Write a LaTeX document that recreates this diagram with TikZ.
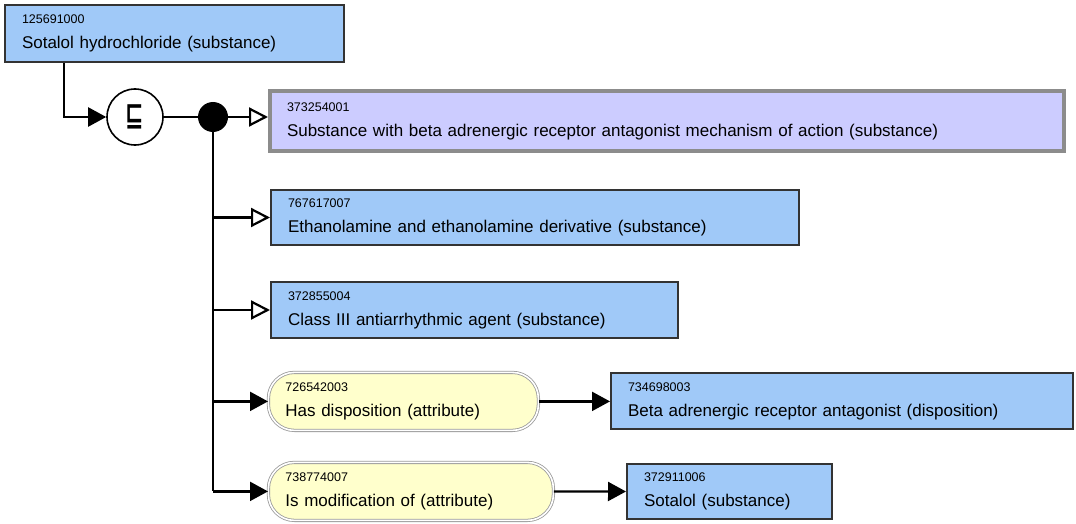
\documentclass[tikz,border=0pt]{standalone}
\usepackage{fontspec}
\setmainfont{Liberation Sans}
\newfontfamily\symfont{DejaVu Sans}
\usetikzlibrary{arrows.meta,positioning}
\definecolor{SBlue}{RGB}{160,201,248}
\definecolor{SLav}{RGB}{204,204,255}
\definecolor{SYellow}{RGB}{255,255,204}
\definecolor{SEdge}{RGB}{51,51,51}
\newcommand{\cid}[2]{{\fontsize{12.5}{25}\selectfont #1}\\#2}

\tikzset{
  concept/.style={draw=SEdge, line width=2pt, fill=SBlue, anchor=north west,
    align=left, inner xsep=17pt, inner ysep=0pt, font=\fontsize{17}{25}\selectfont},
  attrib/.style={concept, draw=black!40, line width=0.8pt, double=white,
    double distance=1.6pt, fill=SYellow, rounded corners=26pt},
  isa/.style={-{Triangle[open,length=19pt,width=19pt,fill=white]}, line width=2.2pt},
  rel/.style={-{Triangle[length=18pt,width=19pt]}, line width=2.2pt},
}

\begin{document}
\begin{tikzpicture}[x=1pt,y=-1pt]
  \useasboundingbox (0,0) rectangle (1076,524);

  % concepts
  \node[concept, text width=305pt, minimum height=57pt] (sotHcl) at (4,4)
    {\cid{125691000}{Sotalol hydrochloride (substance)}};
  \node[concept, draw=black!45, line width=4pt, fill=SLav, text width=760pt, minimum height=60pt] (betaAnt) at (268,89)
    {\cid{373254001}{Substance with beta adrenergic receptor antagonist mechanism of action (substance)}};
  \node[concept, text width=494pt, minimum height=55pt] (ethanol) at (270,189)
    {\cid{767617007}{Ethanolamine and ethanolamine derivative (substance)}};
  \node[concept, text width=373pt, minimum height=56pt] (classIII) at (270,281)
    {\cid{372855004}{Class III antiarrhythmic agent (substance)}};

  % attributes and values
  \node[attrib, text width=236pt, minimum height=58pt] (hasDisp) at (268,372)
    {\cid{726542003}{Has disposition (attribute)}};
  \node[concept, text width=428pt, minimum height=56pt] (dispVal) at (610,372)
    {\cid{734698003}{Beta adrenergic receptor antagonist (disposition)}};
  \node[attrib, text width=251pt, minimum height=58pt] (isMod) at (268,462)
    {\cid{738774007}{Is modification of (attribute)}};
  \node[concept, text width=171pt, minimum height=55pt] (sotalol) at (626,463)
    {\cid{372911006}{Sotalol (substance)}};

  % definition status and conjunction
  \node[circle, draw, line width=1.6pt, fill=white, minimum size=56pt, inner sep=0pt,
    font=\symfont\bfseries\fontsize{26}{26}\selectfont] (defStat) at (135,117)
    {\scalebox{0.85}[1.2]{⊑}};
  \node[circle, fill=black, minimum size=30pt, inner sep=0pt] (conj) at (213,117) {};

  \draw[rel] ([xshift=60pt]sotHcl.south west) |- (defStat.west);
  \draw[line width=2.2pt] (defStat.east) -- (conj.west);
  \draw[isa] (conj.east) -- (conj.east -| betaAnt.west);
  \draw[line width=2.2pt] (conj.south) -- (conj |- isMod.west);
  \foreach \n in {ethanol,classIII}
    \draw[isa] (conj |- \n.west) -- (\n.west);
  \foreach \n in {hasDisp,isMod}
    \draw[rel] (conj |- \n.west) -- (\n.west);
  \draw[rel] (hasDisp.east) -- (hasDisp.east -| dispVal.west);
  \draw[rel] (isMod.east) -- (sotalol.west);
\end{tikzpicture}
\end{document}
